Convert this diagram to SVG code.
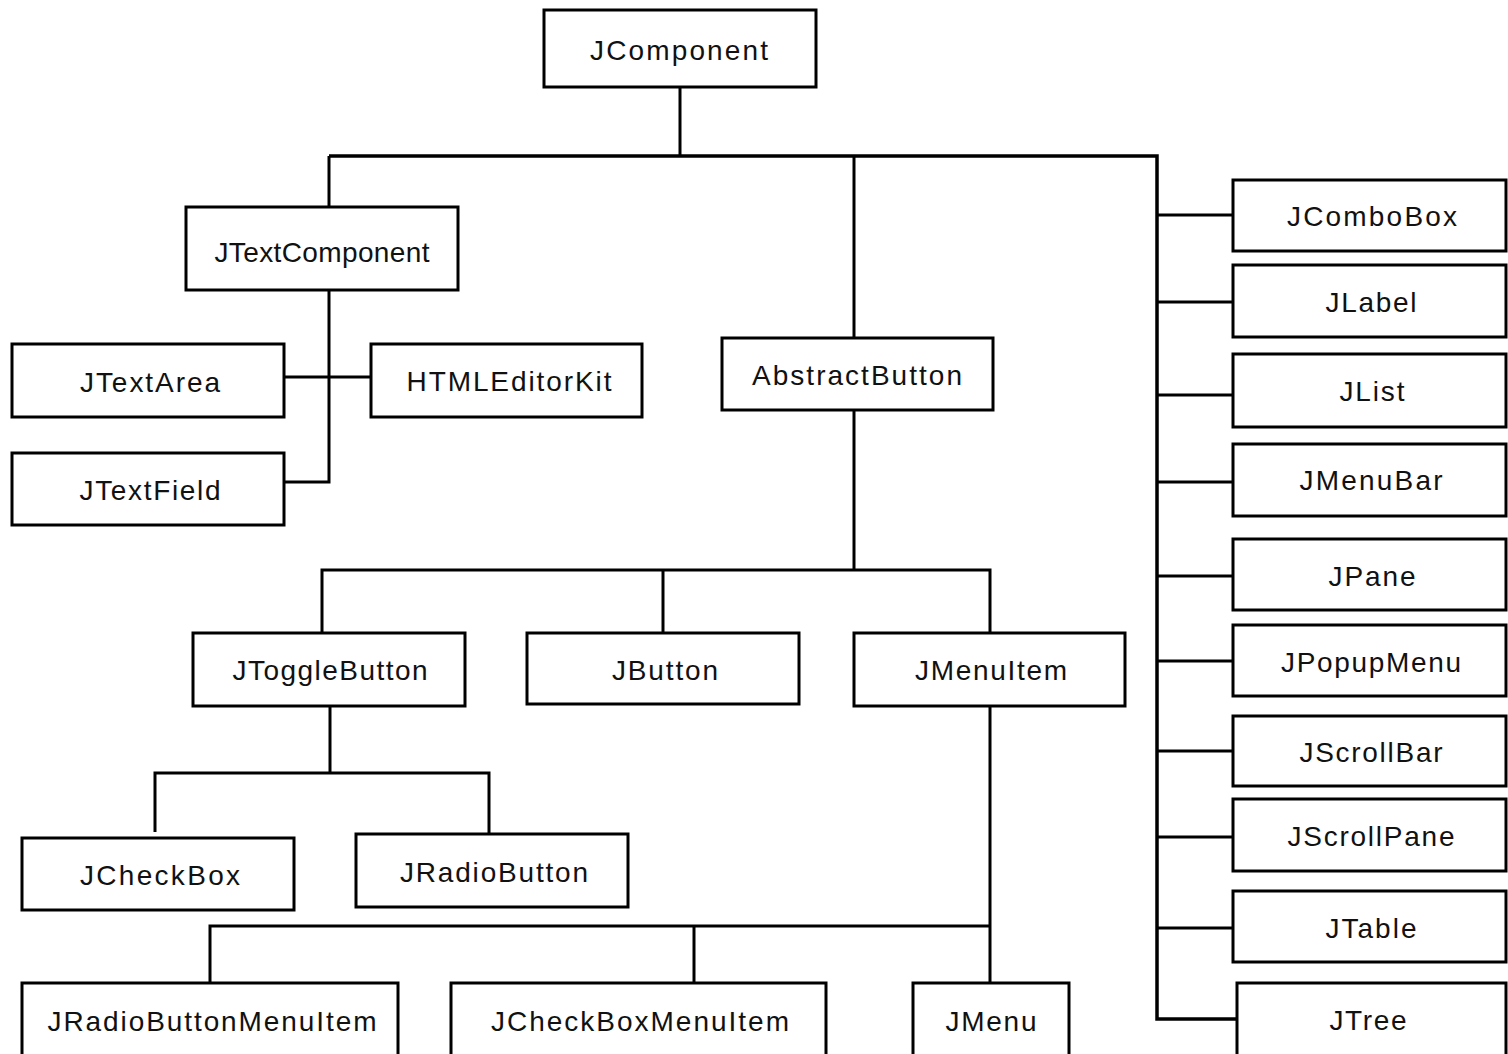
<svg xmlns="http://www.w3.org/2000/svg" width="1508" height="1054" viewBox="0 0 1508 1054">
<style>
.box{fill:#fff;stroke:#000;stroke-width:3}
.lbl{font-family:"Liberation Sans",Arial,sans-serif;font-size:28px;fill:#111;text-anchor:middle}
.ln{fill:none;stroke:#000;stroke-width:3}
.bus{fill:none;stroke:#000;stroke-width:3.5}
</style>
<rect width="1508" height="1054" fill="#fff"/>
<g id="connectors">
<path class="ln" d="M680,87 V156"/>
<path class="bus" d="M329,156 H1157 V1019 H1237"/>
<path class="ln" d="M329,156 V207"/>
<path class="ln" d="M854,156 V338"/>
<path class="ln" d="M329,290 V482 H284"/>
<path class="ln" d="M284,377 H371"/>
<path class="ln" d="M854,410 V570"/>
<path class="ln" d="M322,633 V570 H990 V633"/>
<path class="ln" d="M663,570 V633"/>
<path class="ln" d="M330,706 V773"/>
<path class="ln" d="M155,832 V773 H489 V834"/>
<path class="ln" d="M990,706 V983"/>
<path class="ln" d="M210,983 V926 H990"/>
<path class="ln" d="M694,926 V986"/>
<path class="ln" d="M1157,215 H1233 M1157,302 H1233 M1157,395 H1233 M1157,482 H1233 M1157,576 H1233 M1157,661 H1233 M1157,751 H1233 M1157,837 H1233 M1157,928 H1233"/>
</g>
<g id="JComponent"><rect class="box" x="544" y="10" width="272" height="77" stroke-width="3.5"/><text class="lbl" x="679" y="60" textLength="178" lengthAdjust="spacing">JComponent</text></g>
<g id="JTextComponent"><rect class="box" x="186" y="207" width="272" height="83"/><text class="lbl" x="322" y="262" textLength="215" lengthAdjust="spacing">JTextComponent</text></g>
<g id="JTextArea"><rect class="box" x="12" y="344" width="272" height="73"/><text class="lbl" x="150" y="392" textLength="140" lengthAdjust="spacing">JTextArea</text></g>
<g id="HTMLEditorKit"><rect class="box" x="371" y="344" width="271" height="73"/><text class="lbl" x="509" y="391" textLength="205" lengthAdjust="spacing">HTMLEditorKit</text></g>
<g id="JTextField"><rect class="box" x="12" y="453" width="272" height="72"/><text class="lbl" x="150" y="500" textLength="141" lengthAdjust="spacing">JTextField</text></g>
<g id="AbstractButton"><rect class="box" x="722" y="338" width="271" height="72"/><text class="lbl" x="857" y="385" textLength="210" lengthAdjust="spacing">AbstractButton</text></g>
<g id="JToggleButton"><rect class="box" x="193" y="633" width="272" height="73"/><text class="lbl" x="330" y="680" textLength="195" lengthAdjust="spacing">JToggleButton</text></g>
<g id="JButton"><rect class="box" x="527" y="633" width="272" height="71"/><text class="lbl" x="665" y="680" textLength="106" lengthAdjust="spacing">JButton</text></g>
<g id="JMenuItem"><rect class="box" x="854" y="633" width="271" height="73"/><text class="lbl" x="991" y="680" textLength="152" lengthAdjust="spacing">JMenuItem</text></g>
<g id="JCheckBox"><rect class="box" x="22" y="838" width="272" height="72"/><text class="lbl" x="160" y="885" textLength="160" lengthAdjust="spacing">JCheckBox</text></g>
<g id="JRadioButton"><rect class="box" x="356" y="834" width="272" height="73"/><text class="lbl" x="494" y="882" textLength="188" lengthAdjust="spacing">JRadioButton</text></g>
<g id="JRadioButtonMenuItem"><rect class="box" x="22" y="983" width="376" height="80"/><text class="lbl" x="212" y="1031" textLength="329" lengthAdjust="spacing">JRadioButtonMenuItem</text></g>
<g id="JCheckBoxMenuItem"><rect class="box" x="451" y="983" width="375" height="80"/><text class="lbl" x="640" y="1031" textLength="298" lengthAdjust="spacing">JCheckBoxMenuItem</text></g>
<g id="JMenu"><rect class="box" x="913" y="983" width="156" height="80"/><text class="lbl" x="991" y="1031" textLength="91" lengthAdjust="spacing">JMenu</text></g>
<g id="JComboBox"><rect class="box" x="1233" y="180" width="273" height="71"/><text class="lbl" x="1372" y="226" textLength="170" lengthAdjust="spacing">JComboBox</text></g>
<g id="JLabel"><rect class="box" x="1233" y="265" width="273" height="72"/><text class="lbl" x="1371" y="312" textLength="91" lengthAdjust="spacing">JLabel</text></g>
<g id="JList"><rect class="box" x="1233" y="354" width="273" height="73"/><text class="lbl" x="1372" y="401" textLength="65" lengthAdjust="spacing">JList</text></g>
<g id="JMenuBar"><rect class="box" x="1233" y="444" width="273" height="72"/><text class="lbl" x="1371" y="490" textLength="143" lengthAdjust="spacing">JMenuBar</text></g>
<g id="JPane"><rect class="box" x="1233" y="539" width="273" height="71"/><text class="lbl" x="1372" y="586" textLength="87" lengthAdjust="spacing">JPane</text></g>
<g id="JPopupMenu"><rect class="box" x="1233" y="625" width="273" height="71"/><text class="lbl" x="1371" y="672" textLength="180" lengthAdjust="spacing">JPopupMenu</text></g>
<g id="JScrollBar"><rect class="box" x="1233" y="716" width="273" height="70"/><text class="lbl" x="1371" y="762" textLength="143" lengthAdjust="spacing">JScrollBar</text></g>
<g id="JScrollPane"><rect class="box" x="1233" y="799" width="273" height="72"/><text class="lbl" x="1371" y="846" textLength="167" lengthAdjust="spacing">JScrollPane</text></g>
<g id="JTable"><rect class="box" x="1233" y="891" width="273" height="71"/><text class="lbl" x="1371" y="938" textLength="91" lengthAdjust="spacing">JTable</text></g>
<g id="JTree"><rect class="box" x="1237" y="983" width="269" height="80"/><text class="lbl" x="1368" y="1030" textLength="77" lengthAdjust="spacing">JTree</text></g>
</svg>
